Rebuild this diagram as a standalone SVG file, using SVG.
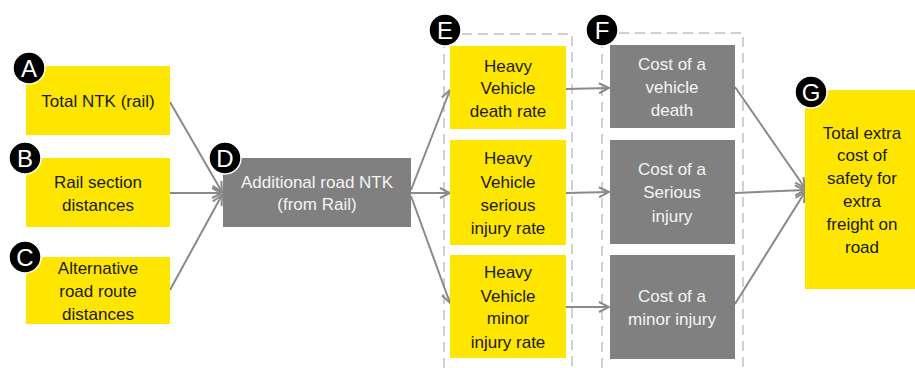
<svg xmlns="http://www.w3.org/2000/svg" width="915" height="368" viewBox="0 0 915 368">
<defs>
<style>
.y{fill:#FFE600}
.g{fill:#808080}
.t{font-family:"Liberation Sans",Arial,sans-serif;font-size:17px;text-anchor:middle;fill:#1a1a1a}
.tw{font-family:"Liberation Sans",Arial,sans-serif;font-size:17px;text-anchor:middle;fill:#f5f5f5}
.c{fill:#000;stroke:#fff;stroke-width:1.5}
.cl{font-family:"Liberation Sans",Arial,sans-serif;font-size:24px;text-anchor:middle;fill:#fff}
.dash{fill:none;stroke:#d0d0d0;stroke-width:2;stroke-dasharray:10 6}
.ln{fill:none;stroke:#8a8a8a;stroke-width:2;marker-end:url(#ah)}
</style>
<marker id="ah" viewBox="0 0 12 12" refX="11" refY="6" markerWidth="12" markerHeight="12" markerUnits="userSpaceOnUse" orient="auto">
<path d="M1,1 L11,6 L1,11" fill="none" stroke="#8a8a8a" stroke-width="2"/>
</marker>
</defs>
<rect width="915" height="368" fill="#fff"/>
<g id="groupE"><path class="dash" d="M444,368 V34 H572 V368"/></g>
<g id="groupF"><path class="dash" d="M602,368 V33 H743 V368"/></g>
<g id="connectors">
<path class="ln" d="M170,102 L222,192"/>
<path class="ln" d="M170,193 L222,193"/>
<path class="ln" d="M170,290 L222,195"/>
<path class="ln" d="M411,190 L450,90"/>
<path class="ln" d="M411,193 L450,193"/>
<path class="ln" d="M411,196 L450,303"/>
<path class="ln" d="M566,89 L609,88"/>
<path class="ln" d="M566,193 L609,192"/>
<path class="ln" d="M566,307 L609,307"/>
<path class="ln" d="M735,87 L805,188"/>
<path class="ln" d="M735,193 L805,190"/>
<path class="ln" d="M735,304 L805,192"/>
</g>
<g id="A">
<rect class="y" x="26" y="66" width="144" height="69"/>
<text class="t" x="98" y="107">Total NTK (rail)</text>
<circle class="c" cx="29" cy="68" r="16"/><text class="cl" x="29" y="77">A</text>
</g>
<g id="B">
<rect class="y" x="26" y="158" width="144" height="69"/>
<text class="t" x="98" y="188">Rail section</text>
<text class="t" x="98" y="211">distances</text>
<circle class="c" cx="25" cy="158" r="16"/><text class="cl" x="25" y="167">B</text>
</g>
<g id="C">
<rect class="y" x="26" y="257" width="144" height="67"/>
<text class="t" x="98" y="274">Alternative</text>
<text class="t" x="98" y="297">road route</text>
<text class="t" x="98" y="320">distances</text>
<circle class="c" cx="25" cy="257" r="16"/><text class="cl" x="25" y="266">C</text>
</g>
<g id="D">
<rect class="g" x="223" y="158" width="188" height="69"/>
<text class="tw" x="317" y="188">Additional road NTK</text>
<text class="tw" x="317" y="210">(from Rail)</text>
<circle class="c" cx="225" cy="158" r="16"/><text class="cl" x="225" y="167">D</text>
</g>
<g id="E">
<circle class="c" cx="445" cy="30" r="16"/><text class="cl" x="445" y="39">E</text>
</g>
<g id="E1">
<rect class="y" x="450" y="46" width="116" height="83"/>
<text class="t" x="508" y="72">Heavy</text>
<text class="t" x="508" y="94">Vehicle</text>
<text class="t" x="508" y="117">death rate</text>
</g>
<g id="E2">
<rect class="y" x="450" y="140" width="116" height="105"/>
<text class="t" x="508" y="164">Heavy</text>
<text class="t" x="508" y="188">Vehicle</text>
<text class="t" x="508" y="211">serious</text>
<text class="t" x="508" y="234">injury rate</text>
</g>
<g id="E3">
<rect class="y" x="450" y="255" width="116" height="103"/>
<text class="t" x="508" y="278">Heavy</text>
<text class="t" x="508" y="302">Vehicle</text>
<text class="t" x="508" y="324">minor</text>
<text class="t" x="508" y="348">injury rate</text>
</g>
<g id="F">
<circle class="c" cx="602" cy="30" r="16"/><text class="cl" x="602" y="39">F</text>
</g>
<g id="F1">
<rect class="g" x="610" y="45" width="125" height="83"/>
<text class="tw" x="672" y="70">Cost of a</text>
<text class="tw" x="672" y="93">vehicle</text>
<text class="tw" x="672" y="116">death</text>
</g>
<g id="F2">
<rect class="g" x="610" y="140" width="125" height="104"/>
<text class="tw" x="672" y="175">Cost of a</text>
<text class="tw" x="672" y="198">Serious</text>
<text class="tw" x="672" y="222">injury</text>
</g>
<g id="F3">
<rect class="g" x="610" y="255" width="125" height="104"/>
<text class="tw" x="672" y="302">Cost of a</text>
<text class="tw" x="672" y="325">minor injury</text>
</g>
<g id="G">
<rect class="y" x="805" y="90" width="110" height="199"/>
<text class="t" x="862" y="139">Total extra</text>
<text class="t" x="862" y="161">cost of</text>
<text class="t" x="862" y="184">safety for</text>
<text class="t" x="862" y="207">extra</text>
<text class="t" x="862" y="230">freight on</text>
<text class="t" x="862" y="253">road</text>
<circle class="c" cx="811" cy="92" r="16"/><text class="cl" x="811" y="101">G</text>
</g>
</svg>
